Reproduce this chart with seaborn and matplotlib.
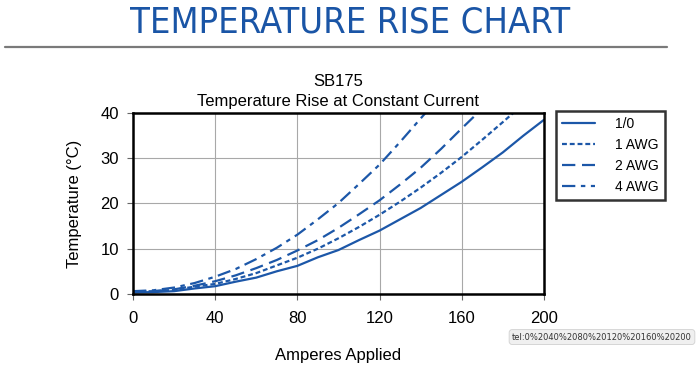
import matplotlib
matplotlib.use('Agg')
import matplotlib.pyplot as plt
import seaborn as sns
import pandas as pd

# Amperes applied, one list per cable size (curves stop where they leave the 40 degC top)
amps_10 = [0, 10, 20, 30, 40, 50, 60, 70, 80, 90, 100, 110, 120, 130, 140, 150, 160, 170, 180, 190, 200]
temp_10 = [0.3, 0.4, 0.6, 1.2, 1.7, 2.7, 3.6, 5.0, 6.2, 8.1, 9.7, 11.9, 14.0, 16.5, 19.0, 21.9, 24.8, 28.0, 31.3, 35.0, 38.5]

amps_1awg = [0, 10, 20, 30, 40, 50, 60, 70, 80, 90, 100, 110, 120, 130, 140, 150, 160, 170, 180, 190]
temp_1awg = [0.5, 0.6, 0.9, 1.6, 2.2, 3.3, 4.6, 6.3, 8.0, 10.0, 12.3, 14.8, 17.5, 20.4, 23.5, 26.8, 30.3, 34.1, 38.0, 42.0]

amps_2awg = [0, 10, 20, 30, 40, 50, 60, 70, 80, 90, 100, 110, 120, 130, 140, 150, 160, 170]
temp_2awg = [0.5, 0.6, 1.0, 1.8, 2.8, 4.1, 5.7, 7.5, 9.6, 11.9, 14.6, 17.6, 20.7, 24.2, 27.9, 32.1, 36.6, 41.0]

amps_4awg = [0, 10, 20, 30, 40, 50, 60, 70, 80, 90, 100, 110, 120, 130, 140, 150]
temp_4awg = [0.6, 0.8, 1.4, 2.4, 3.8, 5.5, 7.7, 10.2, 13.1, 16.5, 20.1, 24.3, 28.6, 33.6, 38.8, 44.0]

series_names = ['1/0', '1 AWG', '2 AWG', '4 AWG']
x_ticks = [0, 40, 80, 120, 160, 200]
y_ticks = [0, 10, 20, 30, 40]

blue = '#1c57a8'
styles = {
    '1/0': '-',
    '1 AWG': (0, (2.2, 1.3)),
    '2 AWG': (0, (6, 3)),
    '4 AWG': (0, (6, 2.5, 2, 2.5)),
}

sns.set_style('white')
plt.rcParams['font.family'] = ['Liberation Sans', 'DejaVu Sans']
plt.rcParams['text.color'] = 'black'
plt.rcParams['axes.labelcolor'] = 'black'
plt.rcParams['xtick.color'] = 'black'
plt.rcParams['ytick.color'] = 'black'

fig = plt.figure(figsize=(7, 3.72), dpi=100)
ax = fig.add_axes([0.19, 0.21, 0.587, 0.486])

data = {
    '1/0': (amps_10, temp_10),
    '1 AWG': (amps_1awg, temp_1awg),
    '2 AWG': (amps_2awg, temp_2awg),
    '4 AWG': (amps_4awg, temp_4awg),
}
for name in series_names:
    xs, ys = data[name]
    df = pd.DataFrame({'amps': xs, 'temp': ys})
    sns.lineplot(data=df, x='amps', y='temp', ax=ax, color=blue, linewidth=1.6,
                 linestyle=styles[name], label=name)

ax.set_xlim(0, 200)
ax.set_ylim(0, 40)
ax.set_xticks(x_ticks)
ax.set_yticks(y_ticks)
ax.grid(True, color='#a8a8a8', linewidth=0.8)
for s in ax.spines.values():
    s.set_color('black')
    s.set_linewidth(1.8)
ax.tick_params(axis='both', direction='out', length=4, width=0.8, color='#666666',
               labelsize=12, pad=6, bottom=True, left=True)
ax.tick_params(axis='x', pad=8)
ax.set_xlabel('Amperes Applied', fontsize=12, labelpad=16)
ax.set_ylabel('Temperature (\u00b0C)', fontsize=12, labelpad=13)
ax.set_title('SB175\nTemperature Rise at Constant Current', fontsize=12, pad=5, linespacing=1.45)

leg = ax.legend(loc='upper left', bbox_to_anchor=(1.029, 0.53, 0.265, 0.483), mode='expand',
                frameon=True, fancybox=False, fontsize=10, handlelength=2.4, handletextpad=1.4,
                borderpad=0.45, labelspacing=0.5, borderaxespad=0)
leg.get_frame().set_edgecolor('black')
leg.get_frame().set_linewidth(1.8)

# page header
fig.text(0.5, 0.94, 'TEMPERATURE RISE CHART', ha='center', va='center',
         fontsize=26, color='#1a55a6', family='DejaVu Sans', fontstretch='condensed')
fig.add_artist(plt.Line2D([0.007, 0.953], [0.874, 0.874], color='#7a7a7a', linewidth=1.6))

# browser link tooltip captured in the screenshot
fig.text(0.86, 0.094, 'tel:0%2040%2080%20120%20160%20200', ha='center', va='center',
         fontsize=6, color='#333333', family='DejaVu Sans',
         bbox=dict(boxstyle='round,pad=0.35', facecolor='#f0f0f0', edgecolor='#d0d0d0', linewidth=0.6))

fig.savefig('out.png', dpi=100)
